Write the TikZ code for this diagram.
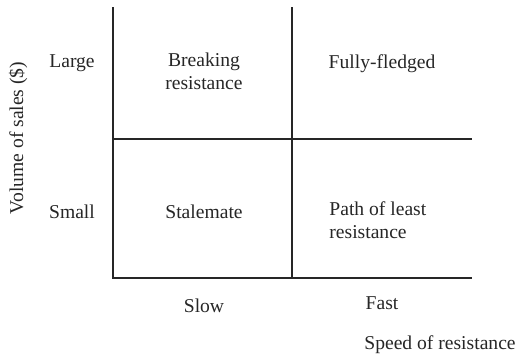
\documentclass[tikz,border=0pt]{standalone}
\usepackage{fontspec}
\setmainfont{Liberation Serif}
\begin{document}
\begin{tikzpicture}[x=0.5pt,y=-0.5pt,
  axisline/.style={line width=1.1pt,draw=black!85},
  lbl/.style={font=\fontsize{9.8}{11.5}\selectfont,text=black!85,inner sep=0pt,align=center},
  lbll/.style={lbl,align=left}]
\useasboundingbox (0,0) rectangle (519,359);
\coordinate (tl) at (113,7);
\coordinate (tm) at (292,7);
\coordinate (ml) at (113,139);
\coordinate (mr) at (472,139);
\coordinate (bl) at (113,278);
\coordinate (bm) at (292,278);
\coordinate (br) at (472,278);
\draw[axisline] (tl) -- (bl) -- (br);
\draw[axisline] (tm) -- (bm);
\draw[axisline] (ml) -- (mr);
\node[lbl] (large) at (72,63) {Large};
\node[lbl] (small) at (72,212) {Small};
\node[lbl] (breaking) at (204,71) {Breaking\\resistance};
\node[lbl] (fully) at (382,64) {Fully-fledged};
\node[lbl] (stale) at (204,212) {Stalemate};
\node[lbll,anchor=west] (path) at (329,220) {Path of least\\resistance};
\node[lbl] (slow) at (204,306) {Slow};
\node[lbl] (fast) at (382,303) {Fast};
\node[lbl] (speed) at (440,345) {Speed of resistance};
\node[lbl,rotate=90] (volume) at (18,138) {Volume of sales (\$)};
\end{tikzpicture}
\end{document}
